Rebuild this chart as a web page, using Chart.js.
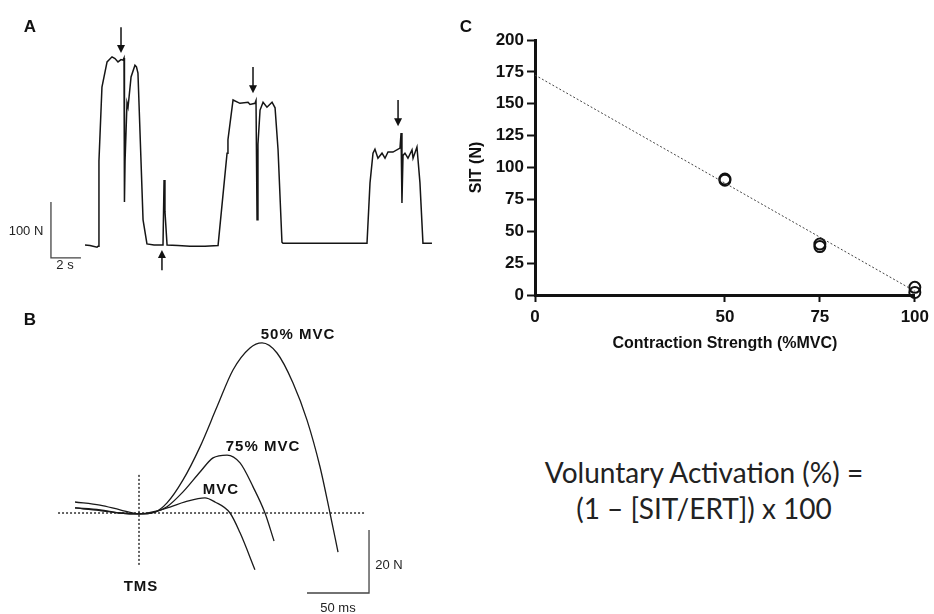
<!DOCTYPE html>
<html>
<head>
<meta charset="utf-8">
<script src="https://cdn.jsdelivr.net/npm/chart.js@4.4.1/dist/chart.umd.min.js"></script>
<style>
  body { margin: 0; background: #fff; }
  #fig { position: relative; width: 934px; height: 614px; background: #fff; font-family: 'Liberation Sans', Arial, sans-serif; color: #111; }
  canvas { position: absolute; }
  .lbl { position: absolute; white-space: nowrap; transform: translate(-50%, -50%); }
  .panel { font-weight: bold; font-size: 17px; }
  .tag { font-weight: bold; font-size: 15px; letter-spacing: 1px; }
  .bar { font-size: 13px; color: #222; }
  .eq { font-family: Lato, 'Open Sans', sans-serif; font-size: 28px; color: #222; }
</style>
</head>
<body>
<div id="fig">
  <canvas id="panelA" width="420" height="270" style="left:30px;top:15px"></canvas>
  <canvas id="panelB" width="370" height="294" style="left:40px;top:320px"></canvas>
  <canvas id="panelC" width="494" height="340" style="left:440px;top:20px"></canvas>

  <div class="lbl panel" style="left:30px;top:27px">A</div>
  <div class="lbl panel" style="left:30px;top:320px">B</div>
  <div class="lbl panel" style="left:466px;top:27px">C</div>

  <div class="lbl bar" style="left:26px;top:230px">100 N</div>
  <div class="lbl bar" style="left:65px;top:264px">2 s</div>

  <div class="lbl tag" style="left:298px;top:333px">50% MVC</div>
  <div class="lbl tag" style="left:263px;top:445px">75% MVC</div>
  <div class="lbl tag" style="left:221px;top:488px">MVC</div>
  <div class="lbl tag" style="left:141px;top:585px">TMS</div>
  <div class="lbl bar" style="left:389px;top:564px">20 N</div>
  <div class="lbl bar" style="left:338px;top:607px">50 ms</div>

  <div class="lbl eq" style="left:704px;top:472px">Voluntary Activation (%) =</div>
  <div class="lbl eq" style="left:704px;top:508px">(1 – [SIT/ERT]) x 100</div>
</div>
<script>
// Panel A: force trace (time in s, force in N)
const traceTime = [0, 0.33, 0.8, 0.87, 0.93, 1.13, 1.47, 1.8, 2.0, 2.2, 2.4, 2.53, 2.6, 2.63, 2.67, 2.8, 2.87, 3.07, 3.33, 3.43, 3.53, 3.87, 4.13, 4.6, 5.13, 5.2, 5.27, 5.33, 5.47, 6.2, 7.0, 8.0, 8.87, 9.47, 9.53, 9.87, 10.33, 10.87, 11.0, 11.33, 11.4, 11.47, 11.53, 11.67, 11.87, 12.13, 12.47, 12.67, 12.87, 13.13, 13.2, 15.67, 18.8, 19.0, 19.2, 19.33, 19.53, 19.8, 20.0, 20.2, 20.53, 21.0, 21.07, 21.13, 21.2, 21.33, 21.53, 21.8, 21.87, 22.13, 22.33, 22.53, 23.13];
const traceForce = [0, -1, -4, -2, 150, 282, 327, 336, 333, 327, 331, 330, 334, 77, 150, 254, 246, 300, 321, 318, 307, 45, 2, 0, 0, 0, 116, 60, 0, -1, -2, -2, -1, 164, 188, 259, 253, 255, 251, 253, 258, 45, 180, 241, 255, 246, 255, 245, 170, 5, 3, 3, 3, 111, 164, 171, 155, 164, 155, 166, 166, 173, 200, 75, 160, 164, 155, 170, 155, 175, 111, 3, 3];
// stimulation arrows: time, tail force, tip force
const arrowTime = [2.4, 11.2, 20.87, 5.13];
const arrowTail = [389, 318, 259, -45];
const arrowTip = [343, 271, 212, -9];
// scale bar A: 2 s x 100 N
const barATime = [-2.27, -2.27, -0.27];
const barAForce = [77, -23, -23];

// Panel B: twitches (time in ms from TMS, force in N above baseline)
const twitch50Time = [-51.6, -31.5, -15.3, 0, 12.9, 22.6, 35.5, 49.2, 62.9, 75.8, 89.5, 99.2, 111.3, 124.2, 135.5, 146, 154, 160.5];
const twitch50Force = [1.6, 1.0, 0, -0.3, 0.3, 3.2, 10.5, 21, 33.7, 45.4, 52.4, 54, 50.8, 41.3, 29.5, 14.6, 0, -12.4];
const twitch75Time = [-51.6, -31.5, -15.3, 0, 12.9, 22.6, 35.5, 49.2, 59.7, 71, 81.5, 92, 101.6, 108.9];
const twitch75Force = [1.6, 0.8, 0, -0.3, 0.3, 2, 6.7, 13, 17.5, 18.4, 15.9, 8.3, 0, -8.9];
const twitchMvcTime = [-51.6, -31.5, -15.3, 0, 12.9, 25, 37.1, 53.2, 61.3, 73.4, 81.5, 93.5];
const twitchMvcForce = [3.5, 2.5, 1, -0.3, 0.5, 1.9, 3.5, 4.8, 3.5, 0, -6.3, -18];
const baselineTime = [-65.3, 182.3];
const tmsForce = [12.1, -17.1];
// scale bar B: 50 ms x 20 N
const barBTime = [185.5, 185.5, 135.5];
const barBForce = [-5.4, -25.4, -25.4];

// Panel C: superimposed twitch vs contraction strength
const strength = [50, 50, 75, 75, 100, 100];
const sit = [90, 91, 40, 38, 6, 2];
const fitStrength = [0, 100];
const fitSit = [172.5, 3];
const strengthTicks = [0, 50, 75, 100];

Chart.defaults.font.family = "'Liberation Sans', Arial, sans-serif";
Chart.defaults.color = '#111';

const toPts = (xs, ys) => xs.map((x, i) => ({ x: x, y: ys[i] }));
const hiddenAxes = (x0, x1, y0, y1) => ({
  x: { type: 'linear', display: false, min: x0, max: x1 },
  y: { type: 'linear', display: false, min: y0, max: y1 }
});
const lineSet = (data, color, width, dash) => ({
  data: data, showLine: true, borderColor: color, borderWidth: width,
  borderDash: dash || [], pointRadius: 0, fill: false
});

const arrowPlugin = {
  id: 'pfeile',
  afterDatasetsDraw(chart) {
    const ctx = chart.ctx, sx = chart.scales.x, sy = chart.scales.y;
    ctx.save();
    ctx.strokeStyle = '#111';
    ctx.fillStyle = '#111';
    ctx.lineWidth = 1.5;
    arrowTime.forEach((t, i) => {
      const x = sx.getPixelForValue(t);
      const y0 = sy.getPixelForValue(arrowTail[i]);
      const y1 = sy.getPixelForValue(arrowTip[i]);
      const dir = y1 > y0 ? 1 : -1;
      ctx.beginPath();
      ctx.moveTo(x, y0);
      ctx.lineTo(x, y1 - dir * 6);
      ctx.stroke();
      ctx.beginPath();
      ctx.moveTo(x - 4, y1 - dir * 8);
      ctx.lineTo(x + 4, y1 - dir * 8);
      ctx.lineTo(x, y1);
      ctx.closePath();
      ctx.fill();
    });
    ctx.restore();
  }
};

new Chart(document.getElementById('panelA'), {
  type: 'scatter',
  data: {
    datasets: [
      lineSet(toPts(traceTime, traceForce), '#151515', 1.5),
      lineSet(toPts(barATime, barAForce), '#444', 1.3)
    ]
  },
  options: {
    responsive: false, animation: false,
    layout: { padding: 0 },
    plugins: { legend: { display: false }, tooltip: { enabled: false } },
    scales: hiddenAxes(-3.667, 24.333, -71.4, 410.7)
  },
  plugins: [arrowPlugin]
});

const curve = (data) => Object.assign(lineSet(data, '#1a1a1a', 1.3), { cubicInterpolationMode: 'monotone' });

new Chart(document.getElementById('panelB'), {
  type: 'scatter',
  data: {
    datasets: [
      curve(toPts(twitch50Time, twitch50Force)),
      curve(toPts(twitch75Time, twitch75Force)),
      curve(toPts(twitchMvcTime, twitchMvcForce)),
      lineSet(toPts(baselineTime, [0, 0]), '#111', 1.3, [2, 2]),
      lineSet(toPts([0, 0], tmsForce), '#111', 1.3, [2, 2]),
      lineSet(toPts(barBTime, barBForce), '#444', 1.3)
    ]
  },
  options: {
    responsive: false, animation: false,
    layout: { padding: 0 },
    plugins: { legend: { display: false }, tooltip: { enabled: false } },
    scales: hiddenAxes(-79.84, 218.55, -32.06, 61.27)
  }
});

new Chart(document.getElementById('panelC'), {
  type: 'scatter',
  data: {
    datasets: [
      Object.assign(lineSet(toPts(fitStrength, fitSit), '#444', 1, [2, 2]), { clip: false }),
      {
        data: toPts(strength, sit), clip: false,
        pointStyle: 'circle', pointRadius: 5.5, pointBorderWidth: 2,
        pointBorderColor: '#111', pointBackgroundColor: 'rgba(255,255,255,0)'
      }
    ]
  },
  options: {
    responsive: false, animation: false,
    layout: { padding: { top: 20, right: 17, left: 0, bottom: 0 } },
    plugins: { legend: { display: false }, tooltip: { enabled: false } },
    scales: {
      x: {
        type: 'linear', min: 0, max: 100,
        afterBuildTicks: (s) => { s.ticks = strengthTicks.map(v => ({ value: v })); },
        afterFit: (s) => { s.height = 65; },
        ticks: { font: { size: 17, weight: 'bold' }, color: '#111', padding: 5 },
        grid: { drawOnChartArea: false, drawTicks: true, tickLength: 7, tickWidth: 2, color: '#111' },
        border: { display: true, width: 3, color: '#111' },
        title: { display: true, text: 'Contraction Strength (%MVC)', font: { size: 16, weight: 'bold' }, color: '#111', padding: { top: 0, bottom: 7 } }
      },
      y: {
        type: 'linear', min: 0, max: 200,
        afterFit: (s) => { s.width = 95; },
        ticks: { stepSize: 25, font: { size: 17, weight: 'bold' }, color: '#111', padding: 3 },
        grid: { drawOnChartArea: false, drawTicks: true, tickLength: 8, tickWidth: 2, color: '#111' },
        border: { display: true, width: 3, color: '#111' },
        title: { display: true, text: 'SIT (N)', font: { size: 16, weight: 'bold' }, color: '#111', padding: { top: 27, bottom: 0 } }
      }
    }
  }
});
</script>
</body>
</html>
